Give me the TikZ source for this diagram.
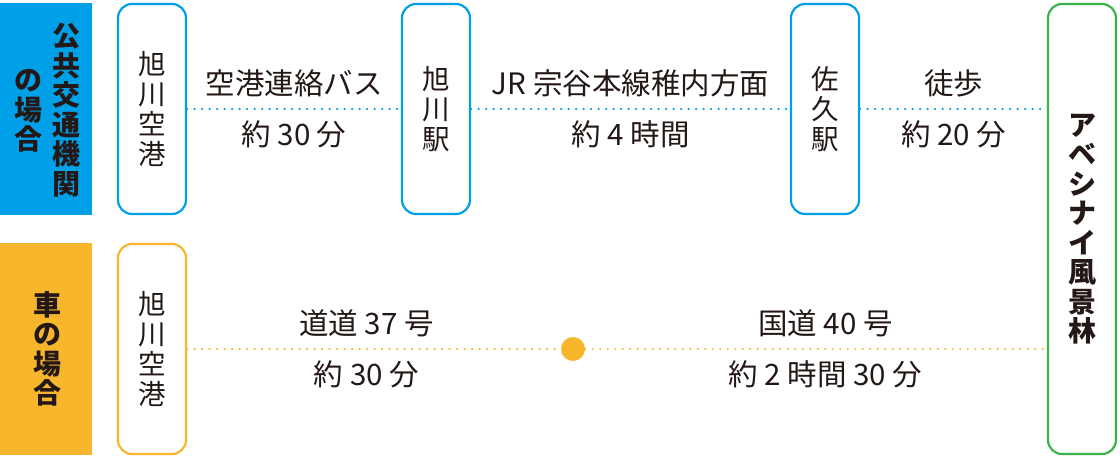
\documentclass[tikz,border=0pt]{standalone}
\usepackage{fontspec}
\setmainfont{Noto Sans CJK JP}
\usetikzlibrary{positioning}

\definecolor{kotsu}{HTML}{00A0E9}
\definecolor{kuruma}{HTML}{F8B62D}
\definecolor{mori}{HTML}{3BB34A}
\definecolor{sumi}{HTML}{231815}

\begin{document}
\begin{tikzpicture}
  [x=1pt,y=-1pt,
   every node/.style={text=sumi,inner sep=0pt},
   band/.style={rectangle,minimum width=92pt,minimum height=212pt},
   band text/.style={align=center,font=\fontsize{28}{29.5}\selectfont\bfseries},
   stopbox/.style={rectangle,rounded corners=14pt,line width=2.2pt,fill=white,
     minimum width=68pt,minimum height=210pt,align=center,
     font=\fontsize{27.5}{30}\selectfont},
   route/.style={line width=2.4pt,line cap=round,dash pattern=on 0pt off 7.5pt},
   route label/.style={font=\fontsize{29.5}{32}\selectfont}]

  \useasboundingbox (0,0) rectangle (1120,465);

  % bands on the left
  \node [band,fill=kotsu]  (bandk) at (46,109) {};
  \node [band,fill=kuruma] (bandc) at (46,349) {};
  \node [band text] (bandk1) at (66,110) {公\\共\\交\\通\\機\\関};
  \node [band text] (bandk2) at (29,111) {の\\場\\合};
  \node [band text] (bandc1) at (47,349) {車\\の\\場\\合};

  % public transport
  \node [stopbox,draw=kotsu] (airport)  at (152,109) {旭\\川\\空\\港};
  \node [stopbox,draw=kotsu] (asahi)    at (436,109) {旭\\川\\駅};
  \node [stopbox,draw=kotsu] (saku)     at (825,109) {佐\\久\\駅};

  % destination
  \node [stopbox,draw=mori,minimum height=450pt,font=\fontsize{28}{29.5}\selectfont\bfseries]
    (forest) at (1082,229) {ア\\ベ\\シ\\ナ\\イ\\風\\景\\林};

  % by car
  \node [stopbox,draw=kuruma] (airport2) at (152,349) {旭\\川\\空\\港};
  \node [circle,fill=kuruma,minimum size=24pt] (junction) at (573,349) {};

  \draw [route,kotsu] (airport) -- (asahi)
    node [route label,midway,above=11pt] (bus)    {空港連絡バス}
    node [route label,midway,below=10pt] (bustime) {約 30 分};
  \draw [route,kotsu] (asahi) -- (saku)
    node [route label,midway,above=11pt] (jr)     {JR 宗谷本線稚内方面}
    node [route label,midway,below=10pt] (jrtime) {約 4 時間};
  \draw [route,kotsu] (saku) -- (forest.west |- saku)
    node [route label,midway,above=11pt] (walk)     {徒歩}
    node [route label,midway,below=10pt] (walktime) {約 20 分};

  \draw [route,kuruma] (airport2) -- (junction)
    node [route label,pos=.48,above=11pt] (dodo)     {道道 37 号}
    node [route label,pos=.48,below=10pt] (dodotime) {約 30 分};
  \draw [route,kuruma] (junction) -- (forest.west |- junction)
    node [route label,pos=.52,above=11pt] (kokudo)     {国道 40 号}
    node [route label,pos=.52,below=10pt] (kokudotime) {約 2 時間 30 分};

\end{tikzpicture}
\end{document}
